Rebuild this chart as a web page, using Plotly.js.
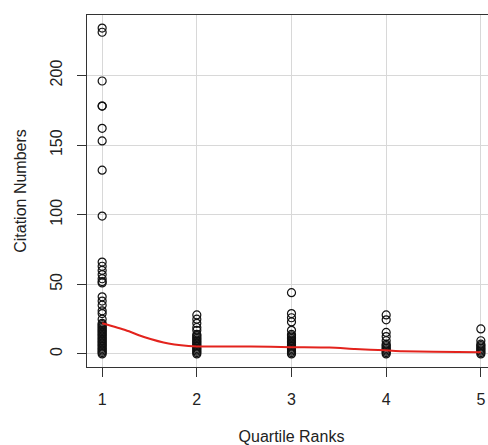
<!DOCTYPE html>
<html>
<head>
<meta charset="utf-8">
<script src="https://cdn.plot.ly/plotly-3.0.1.min.js"></script>
<style>
html,body{margin:0;padding:0;overflow:hidden;background:#fff;}
#chart{width:496px;height:445px;}
</style>
</head>
<body>
<div id="chart"></div>
<script>
// Citation numbers per quartile rank
const rank1 = [234, 231, 196, 178, 178, 162, 153, 132, 99, 66, 63, 60, 57, 54, 52, 51, 41, 38, 35, 31, 29, 25, 22, 21, 20, 19, 18, 17, 16, 15, 14, 13, 12, 11, 10, 9, 8, 7, 6, 5, 4, 3, 2, 1, 0];
const rank2 = [28, 25, 22, 19, 17, 14, 13, 12, 11, 10, 9, 8, 7, 6, 5, 4, 3, 2, 1, 0];
const rank3 = [44, 29, 26, 23, 17, 14, 13, 12, 11, 10, 9, 8, 7, 6, 5, 4, 3, 2, 1, 0];
const rank4 = [28, 24.5, 15.5, 12.5, 9.5, 7, 6, 5, 4, 3, 2, 1, 0];
const rank5 = [18, 9.5, 7, 6, 5, 4, 3, 2, 1, 0];

// Smoothed trend line
const trendX = [1, 1.25, 1.45, 1.7, 2, 2.57, 3, 3.4, 3.67, 4, 4.17, 4.5, 5];
const trendY = [22, 17, 12, 7.5, 5.4, 5.4, 4.9, 4.6, 3.6, 2.6, 2.0, 1.6, 1.3];

const xTicks = [1, 2, 3, 4, 5];
const yTicks = [0, 50, 100, 150, 200];

const groups = [rank1, rank2, rank3, rank4, rank5];
const px = [], py = [];
groups.forEach((g, i) => g.forEach(v => { px.push(xTicks[i]); py.push(v); }));

const font = {family: 'Liberation Sans, Arial, sans-serif', size: 16, color: '#222'};

const traces = [
  {
    x: px, y: py, type: 'scatter', mode: 'markers',
    marker: {symbol: 'circle-open', size: 8, color: '#111', line: {width: 1.2, color: '#111'}},
    hoverinfo: 'skip'
  },
  {
    x: trendX, y: trendY, type: 'scatter', mode: 'lines',
    line: {color: '#e3231d', width: 2, shape: 'spline', smoothing: 0.6},
    hoverinfo: 'skip'
  }
];

const layout = {
  width: 496, height: 445,
  margin: {l: 87, r: 0, t: 15, b: 78},
  paper_bgcolor: '#fff', plot_bgcolor: '#fff',
  showlegend: false,
  font: font,
  xaxis: {
    range: [0.84, 5.16],
    tickvals: xTicks, ticktext: xTicks.map(String),
    ticks: 'outside', ticklen: 9, tickcolor: '#333', tickwidth: 1,
    ticklabelstandoff: 9,
    showline: true, mirror: true, linecolor: '#333', linewidth: 1,
    showgrid: true, gridcolor: '#d8d8d8', gridwidth: 1,
    zeroline: false,
    tickfont: font,
    title: {text: 'Quartile Ranks', font: font, standoff: 23}
  },
  yaxis: {
    range: [-9.36, 243.4],
    tickvals: yTicks, ticktext: yTicks.map(String),
    ticks: 'outside', ticklen: 9, tickcolor: '#333', tickwidth: 1,
    tickangle: -90,
    ticklabelstandoff: 9,
    showline: true, mirror: true, linecolor: '#333', linewidth: 1,
    showgrid: true, gridcolor: '#d8d8d8', gridwidth: 1,
    zeroline: false,
    tickfont: font,
    title: {text: 'Citation Numbers', font: font, standoff: 16}
  }
};

Plotly.newPlot('chart', traces, layout, {staticPlot: true, displayModeBar: false});
</script>
</body>
</html>
